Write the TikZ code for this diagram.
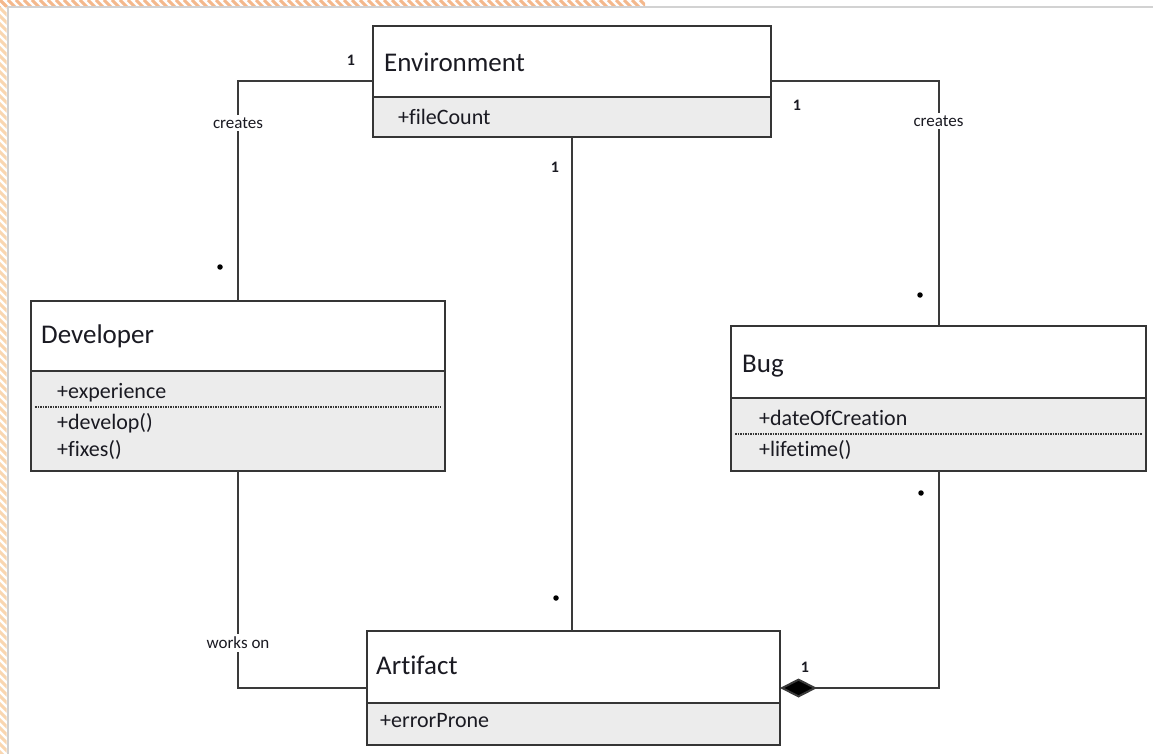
\documentclass[tikz,border=0pt]{standalone}
\usepackage{fontspec}
\setmainfont{Carlito}[Ligatures=NoCommon]
\usetikzlibrary{arrows.meta}

\definecolor{inkline}{HTML}{3A3A3A}
\definecolor{boxline}{HTML}{353535}
\definecolor{attrfill}{HTML}{ECECEC}
\definecolor{txt}{HTML}{1A1A22}
\definecolor{hatchlight}{HTML}{F9D6B0}
\definecolor{hatchdark}{HTML}{F4B88C}
\definecolor{framegray}{HTML}{D2D2D2}

\begin{document}
\begin{tikzpicture}[x=1pt,y=-1pt,
  classarea/.style={rectangle, inner sep=0, outer sep=0},
  title/.style={anchor=base west, inner sep=0, font=\fontsize{27}{30}\selectfont, text=txt},
  member/.style={anchor=base west, inner sep=0, font=\fontsize{22}{24}\selectfont, text=txt},
  role/.style={fill=white, inner xsep=2, inner ysep=3, font=\fontsize{17}{19}\selectfont, text=txt},
  mult/.style={inner sep=0, font=\fontsize{16}{18}\selectfont\bfseries, text=txt},
  many/.style={circle, fill=black, inner sep=0, minimum size=5.5},
  conn/.style={draw=inkline, line width=2},
  outline/.style={draw=boxline, line width=2},
  sepline/.style={draw=boxline, line width=1.2, dash pattern=on 1.6 off 0.9},
  hatchline/.style={line width=3}
]
\useasboundingbox (0,0) rectangle (1153,754);
\fill[white] (0,0) rectangle (1153,754);

% striped page margin
\begin{scope}
  \clip (0,0) rectangle (6.5,754);
  \foreach \i in {-760,-752,...,16} \draw[hatchlight, hatchline] (\i,0) -- ++(770,770);
\end{scope}
\begin{scope}
  \clip (0,0) rectangle (645,6.5);
  \foreach \i in {-16,-8,...,648} \draw[hatchdark, hatchline] (\i,0) -- ++(20,20);
\end{scope}
\draw[framegray, line width=2] (7.5,754) -- (7.5,7.5) -- (1153,7.5);

% ---------- classes ----------
% Environment
\node[classarea, minimum width=398, minimum height=111] (env) at (572,81.5) {};
\fill[attrfill] (373,97) rectangle (771,137);
\draw[outline] (373,97) -- (771,97);
\draw[outline] (env.north west) rectangle (env.south east);
\node[title] (envname) at (384,72) {Environment};
\node[member] (envattr) at (398,125) {+fileCount};

% Developer
\node[classarea, minimum width=414, minimum height=170] (dev) at (238,386) {};
\fill[attrfill] (31,371) rectangle (445,471);
\draw[outline] (31,371) -- (445,371);
\draw[sepline] (35,407) -- (441,407);
\draw[outline] (dev.north west) rectangle (dev.south east);
\node[title] (devname) at (41,343) {Developer};
\node[member] (devattr) at (57,398) {+experience};
\node[member] (devop1) at (57,429) {+develop()};
\node[member] (devop2) at (57,456) {+fixes()};

% Bug
\node[classarea, minimum width=415, minimum height=145] (bug) at (938.5,398.5) {};
\fill[attrfill] (731,398) rectangle (1146,471);
\draw[outline] (731,398) -- (1146,398);
\draw[sepline] (735,434) -- (1142,434);
\draw[outline] (bug.north west) rectangle (bug.south east);
\node[title] (bugname) at (742,372) {Bug};
\node[member] (bugattr) at (759,425) {+dateOfCreation};
\node[member] (bugop) at (759,456) {+lifetime()};

% Artifact
\node[classarea, minimum width=413, minimum height=114] (art) at (573.5,688) {};
\fill[attrfill] (367,703) rectangle (780,745);
\draw[outline] (367,703) -- (780,703);
\draw[outline] (art.north west) rectangle (art.south east);
\node[title] (artname) at (376,674) {Artifact};
\node[member] (artattr) at (380,727) {+errorProne};

% ---------- associations ----------
\draw[conn] (env.west) -| (dev.north);
\draw[conn] (env.east) -| (bug.north);
\draw[conn] (env.south) -- (env.south |- art.north);
\draw[conn] (dev.south) |- (art.west);
\draw[conn, -{Diamond[length=37pt, width=19pt, fill=black]}] (bug.south) |- (art.east);

% association labels and multiplicities
\node[role] (lcreates) at (238,123) {creates};
\node[role] (rcreates) at (938.5,121) {creates};
\node[role] (workson) at (238,643) {works on};
\node[mult] (m1) at (351,60) {1};
\node[mult] (m2) at (797,105) {1};
\node[mult] (m3) at (555,167) {1};
\node[mult] (m4) at (805,667) {1};
\node[many] (s1) at (220,267) {};
\node[many] (s2) at (920,295) {};
\node[many] (s3) at (921,493) {};
\node[many] (s4) at (556,598) {};
\end{tikzpicture}
\end{document}
